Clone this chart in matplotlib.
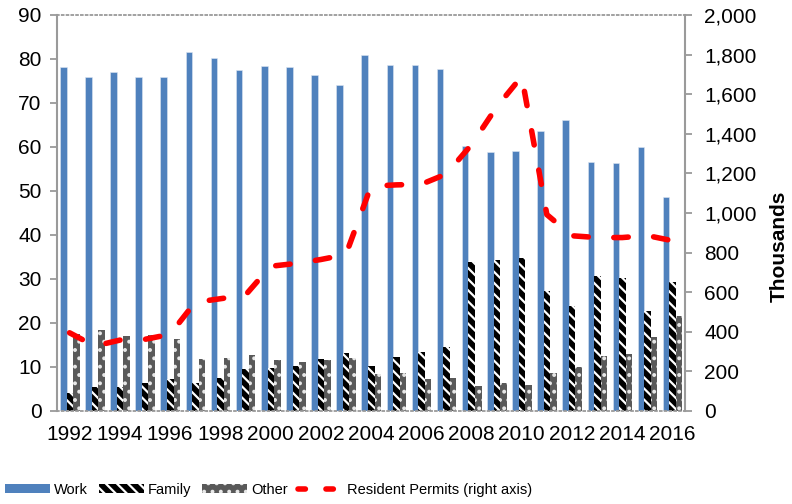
import matplotlib
matplotlib.use('Agg')
from matplotlib import pyplot as plt
from matplotlib.lines import Line2D
import matplotlib.patches as mpatches
import matplotlib.ticker as mticker
import numpy as np

years = list(range(1992, 2017))
work = [78.2, 76.0, 77.0, 75.8, 76.0, 81.6, 80.2, 77.4, 78.5, 78.2,
        76.4, 74.2, 80.9, 78.6, 78.7, 77.7, 60.2, 58.8, 59.0, 63.6,
        66.1, 56.5, 56.3, 60.0, 48.7]
family = [4.0, 5.4, 5.5, 6.4, 7.2, 6.3, 7.4, 9.5, 9.8, 10.3,
          11.8, 13.2, 10.3, 12.2, 13.5, 14.5, 33.8, 34.3, 34.8, 27.3,
          23.9, 30.7, 30.2, 22.8, 29.4]
other = [17.4, 18.3, 17.1, 17.2, 16.4, 11.8, 12.0, 12.8, 11.5, 11.2,
         11.5, 12.0, 8.3, 8.7, 7.3, 7.5, 5.6, 6.4, 5.8, 8.7,
         9.9, 12.5, 13.0, 16.8, 21.5]
permits = [395, 328, 358, 362, 387, 549, 567, 585, 731, 745,
           765, 790, 1135, 1142, 1145, 1197, 1345, 1535, 1690, 992,
           885, 876, 876, 886, 860]

plt.rcParams['font.family'] = ['Liberation Sans', 'DejaVu Sans']
plt.rcParams['hatch.linewidth'] = 1.6

blue = '#4F81BD'
dark = '#595959'
red = '#FF0000'
grey = '#9A9A9A'

x = np.arange(len(years))
w = 0.26

fig = plt.figure(figsize=(7.92, 5.04), dpi=100)
ax = fig.add_axes([57 / 792, 1 - 411 / 504, 628 / 792, 396 / 504])
ax2 = ax.twinx()

ax.bar(x - w + 0.01, work, w, color=blue, edgecolor='#DCE6F2', linewidth=0.4, zorder=2)
ax.bar(x + 0.01, family, w, color='black', edgecolor='white', linewidth=0,
       hatch='\\' * 3, zorder=2)
ax.bar(x + w + 0.01, other, w, color=dark, edgecolor='#E8E8E8', linewidth=0,
       hatch='..', zorder=2)

# dashed red line for the permit totals, on the right-hand axis
ax2.plot(x, permits, color=red, linewidth=4, linestyle=(0, (2.6, 4.6)),
         dash_capstyle='round', zorder=3)

ax.set_xlim(-0.5, len(years) - 0.5)
ax.set_ylim(0, 90)
ax2.set_ylim(0, 2000)

ax.set_yticks(range(0, 91, 10))
ax2.set_yticks(range(0, 2001, 200))
ax2.yaxis.set_major_formatter(mticker.StrMethodFormatter('{x:,.0f}'))
ax.set_xticks(x[::2])
ax.set_xticklabels([str(y) for y in years[::2]])

ax.tick_params(axis='y', direction='out', length=5, width=1.3, color=grey,
               labelsize=15, pad=6)
ax.tick_params(axis='x', length=0, labelsize=15, pad=10)
ax2.tick_params(axis='y', direction='out', length=5, width=1.3, color=grey,
                labelsize=15, pad=9)

for a in (ax, ax2):
    for side in ('top', 'bottom'):
        a.spines[side].set_color(grey)
        a.spines[side].set_linestyle(':')
        a.spines[side].set_linewidth(1.3)
    a.spines['left'].set_color(grey)
    a.spines['right'].set_color(grey)
    a.spines['left'].set_linewidth(1.5)
    a.spines['right'].set_linewidth(1.5)
ax2.spines['left'].set_visible(False)
ax.spines['right'].set_visible(False)
ax2.spines['top'].set_visible(False)
ax2.spines['bottom'].set_visible(False)

fig.text(779 / 792, 1 - 246 / 504, 'Thousands', rotation=90, ha='center',
         va='center', fontsize=15, fontweight='bold')

h_work = mpatches.Patch(facecolor=blue, edgecolor='none', label='Work')
h_family = mpatches.Patch(facecolor='black', edgecolor='white', linewidth=0,
                          hatch='\\' * 3, label='Family')
h_other = mpatches.Patch(facecolor=dark, edgecolor='#E8E8E8', linewidth=0,
                         hatch='..', label='Other')
h_line = Line2D([], [], color=red, linewidth=4, linestyle=(0, (1.33, 3.7)),
                dash_capstyle='round', label='Resident Permits (right axis)')

fig.legend(handles=[h_work, h_family, h_other, h_line], loc='center left',
           bbox_to_anchor=(5 / 792, 1 - 490 / 504), ncol=4, frameon=False,
           borderpad=0, borderaxespad=0, handlelength=3.1, handleheight=0.55,
           handletextpad=0.25, columnspacing=0.75,
           prop={'size': 10.5})

plt.savefig('out.png', dpi=100)
